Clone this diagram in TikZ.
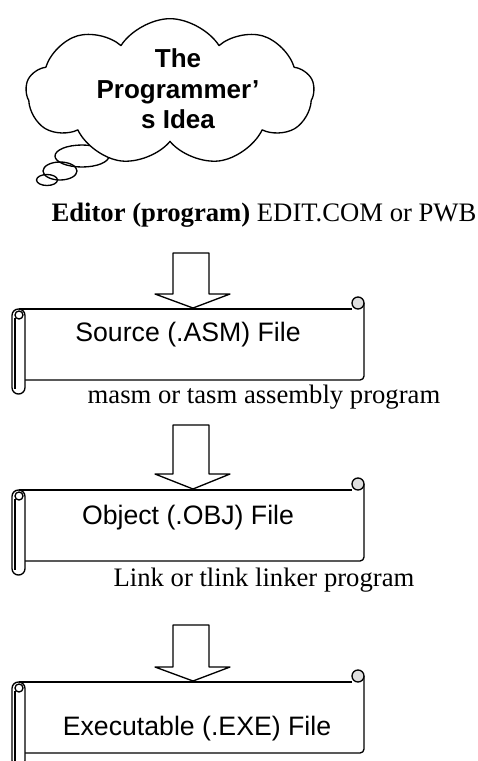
\documentclass[tikz,border=0pt]{standalone}
\usepackage{fontspec}
\setmainfont{Liberation Serif}
\setsansfont{Liberation Sans}
\usepackage{tikz}
\usetikzlibrary{shapes.symbols, positioning}

\tikzset{
  outline/.style={draw=black, line width=1pt, line join=round},
  filetext/.style={font=\sffamily\fontsize{20}{24}\selectfont},
  tooltext/.style={font=\fontsize{20}{24}\selectfont},
}

\begin{document}
\begin{tikzpicture}[x=0.75pt, y=-0.75pt]
  \clip (0,0) rectangle (478,761);
  % thought bubbles and cloud
  \draw[outline] (47,180) ellipse [x radius=10.5, y radius=5.5];
  \draw[outline] (60,171) ellipse [x radius=17, y radius=9];
  \draw[outline] (82,156) ellipse [x radius=27, y radius=11];
  \node[cloud, outline, fill=white, cloud puffs=9, cloud puff arc=115,
        cloud ignores aspect, minimum width=216pt, minimum height=110pt,
        inner sep=0pt] (idea) at (170,92) {};
  \node[font=\sffamily\bfseries\fontsize{19.5}{23}\selectfont, align=center]
    (ideatext) at (178,89) {The\\Programmer’\\s Idea};

  % captions
  \node[tooltext] (editor) at (264,215) {\textbf{Editor (program)} EDIT.COM or PWB};
  \node[tooltext] (masm) at (264,397) {masm or tasm assembly program};
  \node[tooltext] (link) at (264,580) {Link or tlink linker program};

  % block arrows: shaft top / wings / tip
  \foreach \t/\w/\p in {253/294/308, 425/474/489, 625/667/681}
    \draw[outline] (173,\t) -- (209,\t) -- (209,\w) -- (230,\w) -- (193,\p)
      -- (155,\w) -- (173,\w) -- cycle;

  % scrolls, y measured from the top edge
  \foreach \top in {309,490,682} {
    \begin{scope}[shift={(0,\top)}]
      \draw[outline] (19,0) -- (352,0);
      \draw[outline, rounded corners=3pt] (364,-6) -- (364,71) -- (25,71);
      \draw[outline, fill=gray!25] (358,-6) circle [radius=6];
      \draw[outline, fill=white, rounded corners=4.8pt] (12,0) rectangle (25,85);
      \draw[outline] (15,9) -- (15,80);
      \draw[outline, fill=white] (19,6) circle [radius=4];
    \end{scope}
  }
  \node[filetext] (src) at (188,335) {Source (.ASM) File};
  \node[filetext] (obj) at (188,518) {Object (.OBJ) File};
  \node[filetext] (exe) at (197,729) {Executable (.EXE) File};
\end{tikzpicture}
\end{document}
